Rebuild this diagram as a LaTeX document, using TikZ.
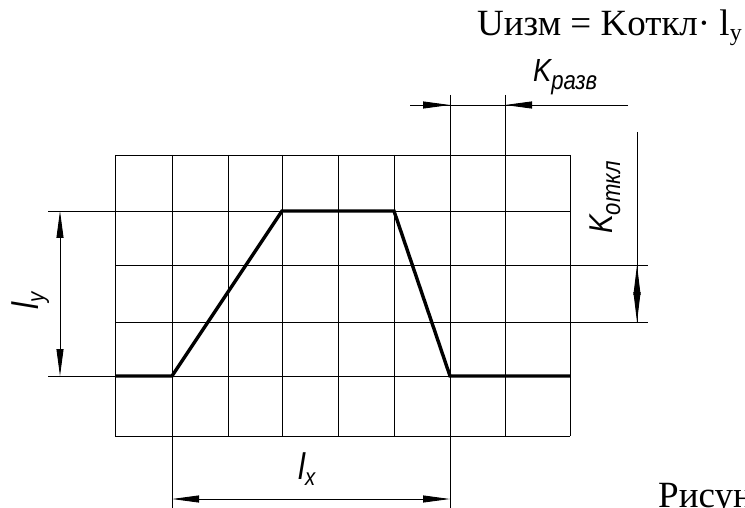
\documentclass[tikz,border=0pt]{standalone}
\usepackage{fontspec}
\setmainfont{Liberation Serif}
\newfontfamily\gost[FakeStretch=0.85]{Liberation Sans}
\usetikzlibrary{arrows.meta}
\begin{document}
\begin{tikzpicture}[x=1pt,y=-1pt,
  gridline/.style={line width=0.9pt, black},
  curveline/.style={line width=3.4pt, line join=miter},
  dimline/.style={line width=0.9pt},
  >={Triangle[length=27pt,width=7pt]},
  lbl/.style={inner sep=0pt, font=\gost\itshape}]
\useasboundingbox (0,0) rectangle (745,508);
% grid
\foreach \x in {115,172,228,282,338,394,450,505,570}
  \draw[gridline] (\x,155) -- (\x,436);
\foreach \y in {155,211,265,322,376,436}
  \draw[gridline] (115,\y) -- (570,\y);
% extension lines
\draw[gridline] (48,211) -- (115,211);
\draw[gridline] (48,376) -- (115,376);
\draw[gridline] (450,95) -- (450,155);
\draw[gridline] (505,95) -- (505,155);
\draw[gridline] (172,436) -- (172,508);
\draw[gridline] (450,436) -- (450,508);
\draw[gridline] (570,265) -- (648,265);
\draw[gridline] (570,322) -- (648,322);
% curve
\coordinate (c0) at (115,376);
\coordinate (c1) at (172,376);
\coordinate (c2) at (282,211);
\coordinate (c3) at (394,211);
\coordinate (c4) at (450,376);
\coordinate (c5) at (570,376);
\draw[curveline] (c0) -- (c1) -- (c2) -- (c3) -- (c4) -- (c5);
% ly dimension
\coordinate (ly1) at (60,211);
\coordinate (ly2) at (60,376);
\draw[dimline,<->] (ly1) -- (ly2);
\node[lbl, rotate=90, anchor=base west] (ly) at (38,310)
  {\fontsize{37}{37}\selectfont l\raisebox{-6pt}{\fontsize{24}{24}\selectfont y}};
% lx dimension
\coordinate (lx1) at (172,499);
\coordinate (lx2) at (450,499);
\draw[dimline,<->] (lx1) -- (lx2);
\node[lbl, anchor=base west] (lx) at (298,479)
  {\fontsize{37}{37}\selectfont l\raisebox{-6pt}{\fontsize{24}{24}\selectfont x}};
% K razv dimension
\coordinate (kr0) at (410,105);
\coordinate (kr1) at (450,105);
\coordinate (kr2) at (505,105);
\coordinate (kr3) at (628,105);
\draw[dimline] (kr0) -- (kr3);
\draw[dimline,->] (kr0) -- (kr1);
\draw[dimline,->] (kr3) -- (kr2);
\node[lbl, anchor=base west] (kr) at (533,82)
  {\fontsize{32}{32}\selectfont K\raisebox{-8pt}{\fontsize{26}{26}\selectfont разв}};
% K otkl dimension
\coordinate (ko0) at (637,132);
\coordinate (ko1) at (637,265);
\coordinate (ko2) at (637,322);
\draw[dimline] (ko0) -- (ko2);
\draw[dimline,<->,>={Triangle[length=30pt,width=7pt]}] (ko1) -- (ko2);
\node[lbl, rotate=90, anchor=base west] (ko) at (612,234)
  {\fontsize{33}{33}\selectfont K\raisebox{-8pt}{\fontsize{26}{26}\selectfont откл}};
% texts
\node[inner sep=0pt, anchor=base east] (formula) at (742,36)
  {\fontsize{37}{37}\selectfont Uизм = Kоткл· l\raisebox{-5pt}{\fontsize{24}{24}\selectfont y}};
\node[inner sep=0pt, anchor=base west] (caption) at (658,507)
  {\fontsize{37}{37}\selectfont Рисун};
\end{tikzpicture}
\end{document}
